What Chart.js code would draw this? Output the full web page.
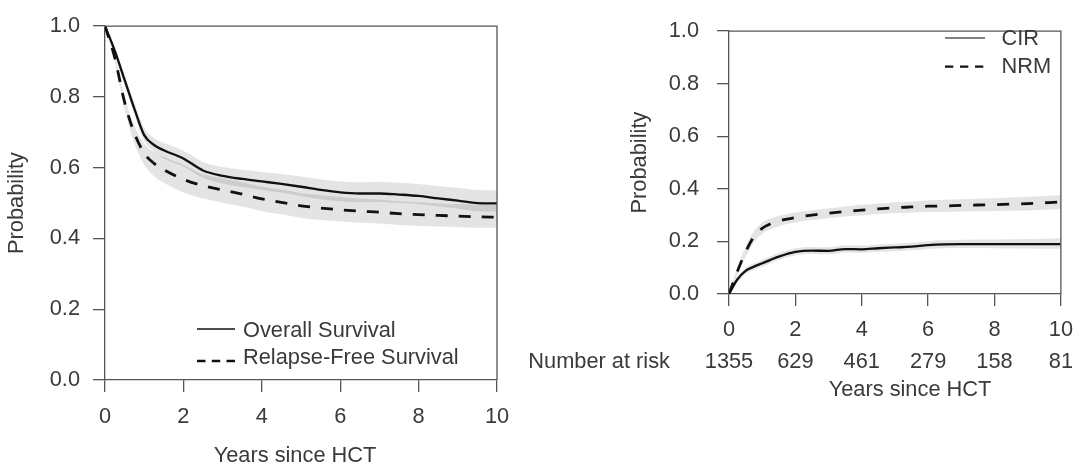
<!DOCTYPE html>
<html>
<head>
<meta charset="utf-8">
<script src="https://cdn.jsdelivr.net/npm/chart.js@4.4.1/dist/chart.umd.min.js"></script>
<style>
  html, body { margin: 0; padding: 0; background: #fff; }
  #wrap { position: relative; width: 1084px; height: 469px; overflow: hidden; }
  #left { position: absolute; left: 0; top: 0; }
  #right { position: absolute; left: 470px; top: 0; }
</style>
</head>
<body>
<div id="wrap">
  <canvas id="left" width="540" height="469"></canvas>
  <canvas id="right" width="614" height="469"></canvas>
</div>
<script>
// left panel: survival
const yearsL = [0, 0.25, 0.5, 0.75, 1, 1.25, 1.5, 2, 2.5, 3, 3.5, 4, 4.5, 5, 5.5, 6, 6.5, 7, 7.5, 8, 8.5, 9, 9.5, 10];
const osVals  = [1.000, 0.930, 0.848, 0.766, 0.692, 0.664, 0.649, 0.626, 0.592, 0.577, 0.568, 0.561, 0.554, 0.546, 0.537, 0.530, 0.527, 0.527, 0.524, 0.520, 0.513, 0.507, 0.500, 0.499];
const osHigh  = [1.000, 0.940, 0.863, 0.784, 0.712, 0.684, 0.670, 0.648, 0.616, 0.602, 0.594, 0.588, 0.582, 0.575, 0.567, 0.561, 0.559, 0.560, 0.557, 0.554, 0.548, 0.543, 0.537, 0.536];
const osLow   = [1.000, 0.920, 0.835, 0.751, 0.675, 0.646, 0.625, 0.603, 0.571, 0.555, 0.545, 0.537, 0.529, 0.520, 0.511, 0.505, 0.502, 0.503, 0.500, 0.497, 0.490, 0.484, 0.477, 0.476];
const rfsVals = [1.000, 0.910, 0.785, 0.697, 0.641, 0.612, 0.594, 0.567, 0.549, 0.537, 0.525, 0.512, 0.502, 0.492, 0.486, 0.481, 0.477, 0.474, 0.470, 0.467, 0.465, 0.463, 0.461, 0.460];
const rfsHigh = [1.000, 0.920, 0.800, 0.717, 0.668, 0.645, 0.630, 0.608, 0.581, 0.570, 0.559, 0.547, 0.538, 0.528, 0.523, 0.518, 0.513, 0.510, 0.505, 0.502, 0.499, 0.497, 0.495, 0.494];
const rfsLow  = [1.000, 0.898, 0.765, 0.669, 0.608, 0.576, 0.557, 0.530, 0.513, 0.501, 0.490, 0.477, 0.468, 0.458, 0.452, 0.448, 0.444, 0.442, 0.438, 0.435, 0.434, 0.432, 0.430, 0.430];

// right panel: cumulative incidence
const yearsR = [0, 0.25, 0.5, 0.75, 1, 1.25, 1.5, 2, 2.5, 3, 3.5, 4, 4.5, 5, 5.5, 6, 6.5, 7, 8, 9, 10];
const cirVals = [0, 0.055, 0.088, 0.104, 0.117, 0.130, 0.142, 0.160, 0.165, 0.164, 0.171, 0.170, 0.174, 0.177, 0.180, 0.186, 0.189, 0.190, 0.190, 0.190, 0.190];
const cirHigh = [0, 0.065, 0.100, 0.117, 0.130, 0.144, 0.156, 0.174, 0.179, 0.178, 0.185, 0.184, 0.188, 0.191, 0.195, 0.201, 0.204, 0.206, 0.207, 0.209, 0.212];
const cirLow  = [0, 0.045, 0.076, 0.092, 0.104, 0.117, 0.129, 0.147, 0.152, 0.151, 0.158, 0.157, 0.161, 0.163, 0.166, 0.171, 0.174, 0.175, 0.174, 0.173, 0.172];
const nrmVals = [0, 0.085, 0.160, 0.218, 0.250, 0.267, 0.278, 0.291, 0.300, 0.307, 0.314, 0.319, 0.324, 0.328, 0.331, 0.334, 0.335, 0.337, 0.340, 0.344, 0.350];
const nrmHigh = [0, 0.100, 0.180, 0.240, 0.272, 0.288, 0.298, 0.310, 0.319, 0.326, 0.333, 0.339, 0.344, 0.349, 0.352, 0.356, 0.358, 0.360, 0.364, 0.370, 0.377];
const nrmLow  = [0, 0.070, 0.140, 0.196, 0.228, 0.246, 0.258, 0.272, 0.281, 0.288, 0.295, 0.299, 0.304, 0.307, 0.310, 0.312, 0.312, 0.314, 0.316, 0.318, 0.323];

const riskYears = [0, 2, 4, 6, 8, 10];
const riskCounts = ['1355', '629', '461', '279', '158', '81'];

const FONT = '"Liberation Sans", Arial, sans-serif';
const FS = 21.8;
const TXT = '#3a3a3a';
const AXIS = '#555';
const BAND = 'rgba(0,0,0,0.105)';

function pts(xs, ys) {
  return xs.map(function (x, i) { return { x: x, y: ys[i] }; });
}

function curve(data, dash, width) {
  return { data: data, borderColor: '#111', borderWidth: width, borderDash: dash,
    pointRadius: 0, fill: false, cubicInterpolationMode: 'monotone' };
}

function band(data, fillTo) {
  return { data: data, borderWidth: 0, borderColor: 'rgba(0,0,0,0)', pointRadius: 0,
    fill: fillTo, backgroundColor: BAND, cubicInterpolationMode: 'monotone' };
}

function axes(o) {
  const font = { family: FONT, size: FS };
  return {
    x: {
      type: 'linear', min: 0, max: 10,
      ticks: { stepSize: 2, color: TXT, font: font, padding: o.xPad, maxRotation: 0, autoSkip: false },
      grid: { drawOnChartArea: false, drawTicks: true, tickLength: 12, color: AXIS, lineWidth: 1.3 },
      border: { display: true, color: AXIS, width: 1.3 },
      title: { display: false },
      afterFit: function (s) { s.height = o.xH; }
    },
    y: {
      type: 'linear', min: 0, max: 1,
      ticks: { stepSize: 0.2, color: TXT, font: font, padding: o.yPad, autoSkip: false,
        callback: function (v) { return v.toFixed(1); } },
      grid: { drawOnChartArea: false, drawTicks: true, tickLength: 12, color: AXIS, lineWidth: 1.3 },
      border: { display: true, color: AXIS, width: 1.3 },
      title: { display: true, text: 'Probability', color: TXT, font: font, padding: { top: o.yTitlePad, bottom: 0 } },
      afterFit: function (s) { s.width = o.yW; }
    }
  };
}

const boxPlugin = {
  id: 'box',
  afterDraw: function (chart) {
    const a = chart.chartArea, ctx = chart.ctx;
    ctx.save();
    ctx.strokeStyle = AXIS;
    ctx.lineWidth = 1.3;
    ctx.beginPath();
    ctx.moveTo(a.left, a.top);
    ctx.lineTo(a.right, a.top);
    ctx.lineTo(a.right, a.bottom);
    ctx.stroke();
    ctx.restore();
  }
};

// x title drawn by hand so it can sit off-centre like the original
const xTitlePlugin = {
  id: 'xtitle',
  afterDraw: function (chart, args, opts) {
    if (!opts.text) return;
    const ctx = chart.ctx;
    ctx.save();
    ctx.fillStyle = TXT;
    ctx.font = FS + 'px ' + FONT;
    ctx.textAlign = 'center';
    ctx.textBaseline = 'middle';
    ctx.fillText(opts.text, opts.x, opts.y);
    ctx.restore();
  }
};

const keyPlugin = {
  id: 'key',
  afterDraw: function (chart, args, opts) {
    if (!opts.items) return;
    const ctx = chart.ctx;
    ctx.save();
    opts.items.forEach(function (it) {
      ctx.strokeStyle = it.color;
      ctx.lineWidth = it.width;
      ctx.setLineDash(it.dash);
      ctx.beginPath();
      ctx.moveTo(opts.x0, it.ly);
      ctx.lineTo(opts.x1, it.ly);
      ctx.stroke();
      ctx.setLineDash([]);
      ctx.fillStyle = TXT;
      ctx.font = FS + 'px ' + FONT;
      ctx.textAlign = 'left';
      ctx.textBaseline = 'middle';
      ctx.fillText(it.text, opts.tx, it.ty);
    });
    ctx.restore();
  }
};

const riskPlugin = {
  id: 'risk',
  afterDraw: function (chart, args, opts) {
    if (!opts.y) return;
    const ctx = chart.ctx, xs = chart.scales.x;
    ctx.save();
    ctx.fillStyle = TXT;
    ctx.font = FS + 'px ' + FONT;
    ctx.textBaseline = 'middle';
    ctx.textAlign = 'right';
    ctx.fillText('Number at risk', opts.labelRight, opts.y);
    ctx.textAlign = 'center';
    riskYears.forEach(function (t, i) {
      ctx.fillText(riskCounts[i], xs.getPixelForValue(t), opts.y);
    });
    ctx.restore();
  }
};

Chart.register(boxPlugin, xTitlePlugin, keyPlugin, riskPlugin);

new Chart(document.getElementById('left'), {
  type: 'line',
  data: {
    datasets: [
      curve(pts(yearsL, osVals), [], 2.3),
      curve(pts(yearsL, rfsVals), [12, 11], 2.8),
      band(pts(yearsL, osLow), false),
      band(pts(yearsL, osHigh), 2),
      band(pts(yearsL, rfsLow), false),
      band(pts(yearsL, rfsHigh), 4)
    ]
  },
  options: {
    responsive: false,
    animation: false,
    layout: { padding: { left: 0, right: 43, top: 16, bottom: 0 } },
    scales: axes({ xPad: 12, xH: 89, yPad: 13, yW: 105, yTitlePad: 3.5 }),
    plugins: {
      legend: { display: false },
      tooltip: { enabled: false },
      xtitle: { text: 'Years since HCT', x: 295, y: 456 },
      key: {
        x0: 197, x1: 235, tx: 243,
        items: [
          { text: 'Overall Survival', color: '#111', width: 1.6, dash: [], ly: 329, ty: 331 },
          { text: 'Relapse-Free Survival', color: '#111', width: 2.6, dash: [8.5, 6.25], ly: 361, ty: 358 }
        ]
      }
    }
  }
});

new Chart(document.getElementById('right'), {
  type: 'line',
  data: {
    datasets: [
      curve(pts(yearsR, cirVals), [], 2.3),
      curve(pts(yearsR, nrmVals), [12, 12], 2.8),
      band(pts(yearsR, cirLow), false),
      band(pts(yearsR, cirHigh), 2),
      band(pts(yearsR, nrmLow), false),
      band(pts(yearsR, nrmHigh), 4)
    ]
  },
  options: {
    responsive: false,
    animation: false,
    layout: { padding: { left: 150, right: 17, top: 16, bottom: 66.5 } },
    scales: axes({ xPad: 11, xH: 108.5, yPad: 18, yW: 109, yTitlePad: 7 }),
    plugins: {
      legend: { display: false },
      tooltip: { enabled: false },
      xtitle: { text: 'Years since HCT', x: 440, y: 389.5 },
      key: {
        x0: 475, x1: 515, tx: 531.5,
        items: [
          { text: 'CIR', color: '#555', width: 1.3, dash: [], ly: 38, ty: 38.5 },
          { text: 'NRM', color: '#111', width: 2.3, dash: [8.3, 6.7], ly: 66.7, ty: 67 }
        ]
      },
      risk: { y: 362, labelRight: 200 }
    }
  }
});
</script>
</body>
</html>
